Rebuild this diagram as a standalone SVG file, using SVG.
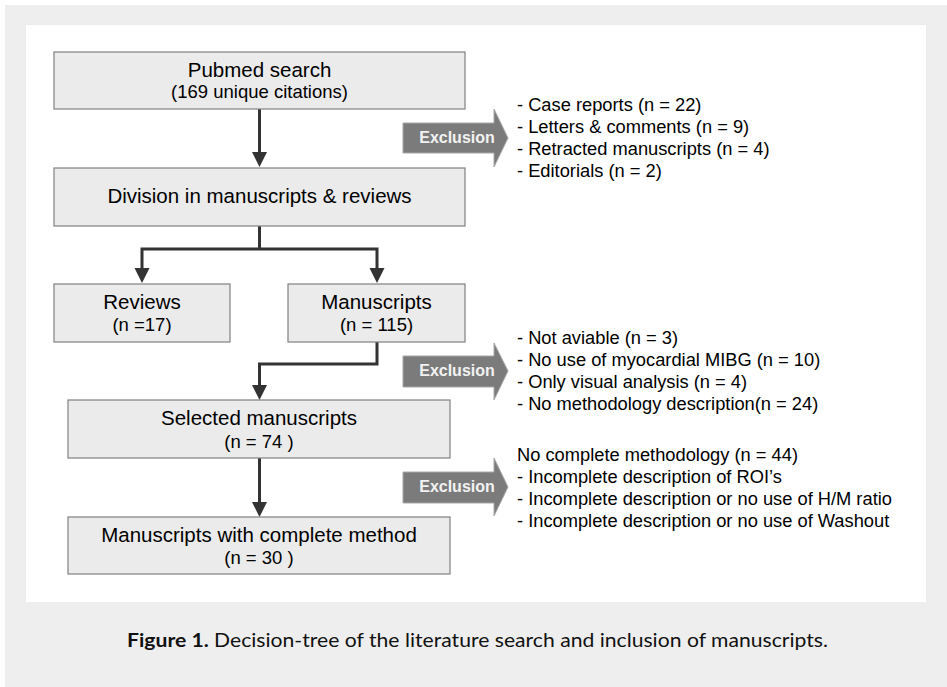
<svg xmlns="http://www.w3.org/2000/svg" width="947" height="687" viewBox="0 0 947 687">
<style>
.box{fill:#ebebeb;stroke:#808080;stroke-width:1.2}
.t1{font-family:"Liberation Sans",Arial,sans-serif;font-size:20.5px;fill:#000;text-anchor:middle}
.t2{font-family:"Liberation Sans",Arial,sans-serif;font-size:18.5px;fill:#000;text-anchor:middle}
.lst{font-family:"Liberation Sans",Arial,sans-serif;font-size:18.3px;fill:#000}
.con{fill:none;stroke:#333;stroke-width:3}
.head{fill:#333}
.exc{fill:#7b7b7b;stroke:#a8a8a8;stroke-width:1}
.exct{font-family:"Liberation Sans",Arial,sans-serif;font-size:16px;font-weight:bold;fill:#f2f2f2;text-anchor:middle}
.cap{font-family:Lato,"Liberation Sans",sans-serif;font-size:19px;fill:#111}
</style>
<rect x="0" y="0" width="947" height="687" fill="#ffffff"/>
<rect x="5" y="5" width="942" height="682" fill="#eeeeee"/>
<rect x="26" y="25" width="900" height="577" fill="#ffffff"/>

<g id="connectors">
<path class="con" d="M259.5,109 V153"/>
<polygon class="head" points="252,152 267,152 259.5,167"/>
<path class="con" d="M259.5,226 V249 M142,249 H377 M142,247.5 V269 M377,247.5 V269"/>
<polygon class="head" points="134.5,268 149.5,268 142,283"/>
<polygon class="head" points="369.5,268 384.5,268 377,283"/>
<path class="con" d="M377,342 V364 H259.5 V386"/>
<polygon class="head" points="252,385 267,385 259.5,400"/>
<path class="con" d="M259.5,458 V503"/>
<polygon class="head" points="252,502 267,502 259.5,517"/>
</g>

<g id="pubmed">
<rect class="box" x="54" y="52" width="411" height="57"/>
<text class="t1" x="259.5" y="77">Pubmed search</text>
<text class="t2" x="259.5" y="98">(169 unique citations)</text>
</g>
<g id="division">
<rect class="box" x="54" y="168" width="411" height="58"/>
<text class="t1" x="259.5" y="203">Division in manuscripts &amp; reviews</text>
</g>
<g id="reviews">
<rect class="box" x="54" y="284" width="176" height="58"/>
<text class="t1" x="142" y="309">Reviews</text>
<text class="t2" x="142" y="331">(n =17)</text>
</g>
<g id="manuscripts">
<rect class="box" x="288" y="284" width="177" height="58"/>
<text class="t1" x="376.5" y="309">Manuscripts</text>
<text class="t2" x="376.5" y="331">(n = 115)</text>
</g>
<g id="selected">
<rect class="box" x="68" y="400" width="382" height="58"/>
<text class="t1" x="259" y="425">Selected manuscripts</text>
<text class="t2" x="259" y="448">(n = 74 )</text>
</g>
<g id="complete">
<rect class="box" x="68" y="517" width="382" height="57"/>
<text class="t1" x="259" y="542">Manuscripts with complete method</text>
<text class="t2" x="259" y="564">(n = 30 )</text>
</g>

<g id="exclusion1">
<polygon class="exc" points="403,123 494,123 494,109 508,138 494,167 494,153 403,153"/>
<text class="exct" x="457" y="143">Exclusion</text>
</g>
<g id="exclusion1-list">
<text class="lst" x="517" y="111">- Case reports (n = 22)</text>
<text class="lst" x="517" y="133">- Letters &amp; comments (n = 9)</text>
<text class="lst" x="517" y="155">- Retracted manuscripts (n = 4)</text>
<text class="lst" x="517" y="177">- Editorials (n = 2)</text>
</g>
<g id="exclusion2">
<polygon class="exc" points="403,356 494,356 494,343 508,371 494,400 494,387 403,387"/>
<text class="exct" x="457" y="376">Exclusion</text>
</g>
<g id="exclusion2-list">
<text class="lst" x="517" y="344">- Not aviable (n = 3)</text>
<text class="lst" x="517" y="366">- No use of myocardial MIBG (n = 10)</text>
<text class="lst" x="517" y="388">- Only visual analysis (n = 4)</text>
<text class="lst" x="517" y="410">- No methodology description(n = 24)</text>
</g>
<g id="exclusion3">
<polygon class="exc" points="403,472 494,472 494,458 508,487 494,516 494,503 403,503"/>
<text class="exct" x="457" y="492">Exclusion</text>
</g>
<g id="exclusion3-list">
<text class="lst" x="517" y="461">No complete methodology (n = 44)</text>
<text class="lst" x="517" y="483">- Incomplete description of ROI’s</text>
<text class="lst" x="517" y="505">- Incomplete description or no use of H/M ratio</text>
<text class="lst" x="517" y="527">- Incomplete description or no use of Washout</text>
</g>

<text class="cap" x="127" y="647" textLength="701" lengthAdjust="spacingAndGlyphs"><tspan font-weight="bold">Figure 1.</tspan> Decision-tree of the literature search and inclusion of manuscripts.</text>
</svg>
